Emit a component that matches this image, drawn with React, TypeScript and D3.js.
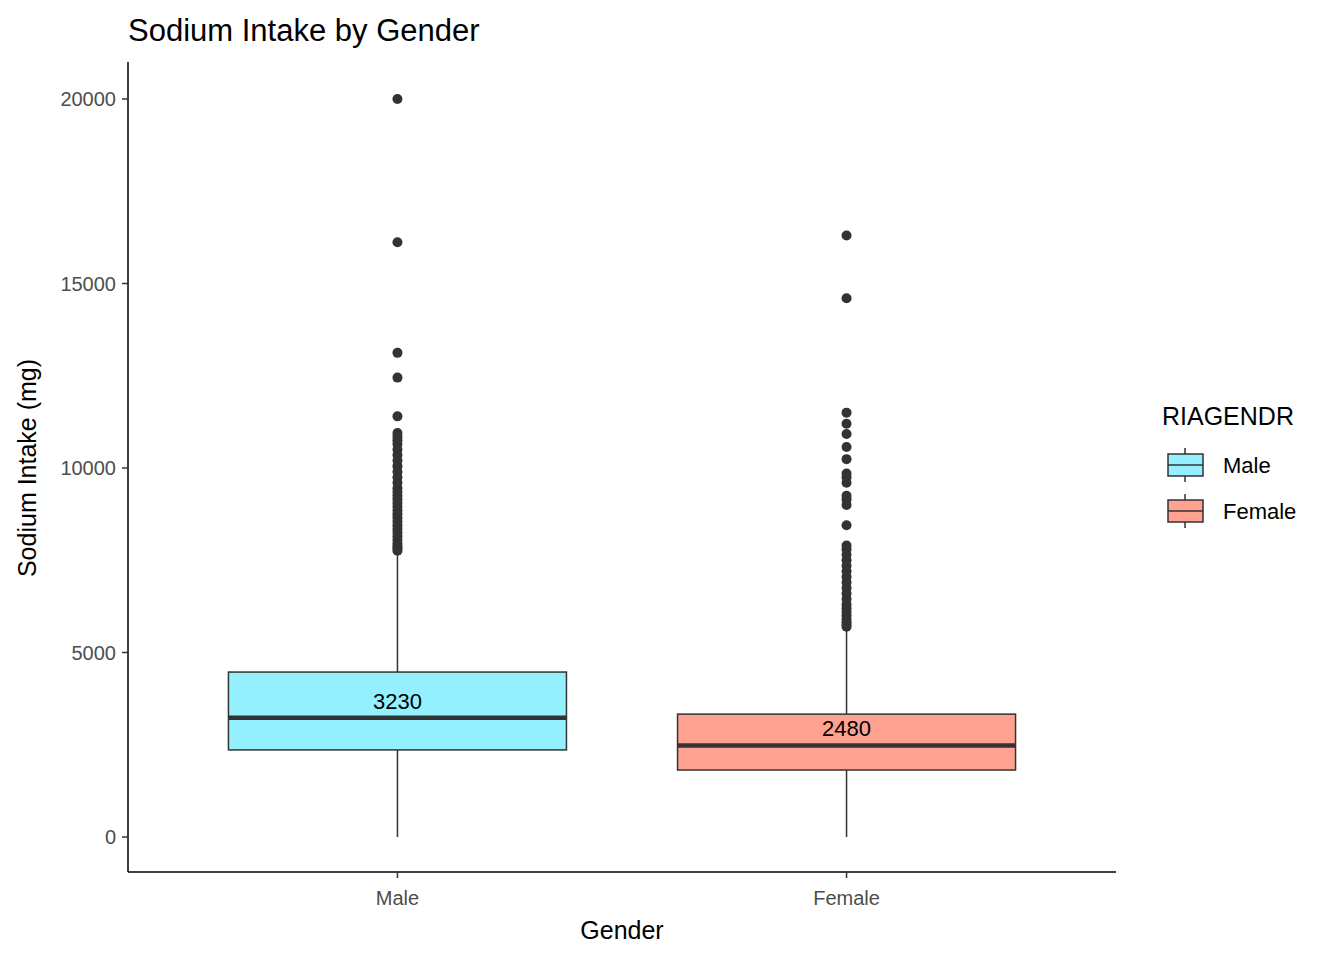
import React from "react";
import * as d3 from "d3";

const categories = ["Male", "Female"];
const fills = ["#94EFFF", "#FFA291"];
const q1 = [2360, 1815];
const median = [3230, 2480];
const q3 = [4470, 3330];
const whiskLo = [0, 0];
const whiskHi = [7700, 5650];
const maleOutliers = [20000, 16120, 13120, 12450, 11400, 10950, 10850, 10750, 10650, 10500, 10350, 10200, 10050, 9900, 9750, 9600, 9450, 9350, 9250, 9150, 9050, 8950, 8850, 8750, 8650, 8550, 8450, 8350, 8250, 8150, 8050, 7950, 7880, 7820, 7760];
const femaleOutliers = [16300, 14600, 11500, 11200, 10920, 10570, 10240, 9850, 9750, 9600, 9250, 9150, 9000, 8450, 7900, 7800, 7650, 7500, 7350, 7200, 7050, 6900, 6750, 6600, 6450, 6300, 6200, 6100, 6000, 5900, 5820, 5750, 5700];
const outliers = [maleOutliers, femaleOutliers];
const yTicks = [0, 5000, 10000, 15000, 20000];

export default function App() {
  const L = 128, R = 1116, T = 62, B = 872;
  const y = d3.scaleLinear().domain([0, 20000]).range([837, 99]);
  const x = d3.scaleBand().domain(categories).range([L, R]).padding(0.2).paddingOuter(0.2);
  const cx = (c: string) => x(c)! + x.bandwidth() / 2;
  const bw = 338;
  const font = "Arial, Liberation Sans, sans-serif";
  return (
    <svg width={1344} height={960} style={{ position: "absolute", left: 0, top: 0 }} fontFamily={font}>
      <rect width={1344} height={960} fill="white" />
      <text x={128} y={41} fontSize={31} fill="#000">Sodium Intake by Gender</text>
      {categories.map((c, i) => {
        const m = cx(c);
        return (
          <g key={c}>
            <line x1={m} x2={m} y1={y(whiskLo[i])} y2={y(q1[i])} stroke="#333" strokeWidth={1.5} />
            <line x1={m} x2={m} y1={y(q3[i])} y2={y(whiskHi[i])} stroke="#333" strokeWidth={1.5} />
            <rect x={m - bw / 2} width={bw} y={y(q3[i])} height={y(q1[i]) - y(q3[i])} fill={fills[i]} stroke="#333" strokeWidth={1.5} />
            <line x1={m - bw / 2} x2={m + bw / 2} y1={y(median[i])} y2={y(median[i])} stroke="#333" strokeWidth={4.5} />
            {outliers[i].map((v, j) => <circle key={j} cx={m} cy={y(v)} r={5} fill="#333" />)}
            <text x={m} y={y(median[i]) - 9} textAnchor="middle" fontSize={22} fill="#000">{median[i]}</text>
          </g>
        );
      })}
      <line x1={L} x2={L} y1={T} y2={B} stroke="#000" strokeWidth={1.5} />
      <line x1={L} x2={R} y1={B} y2={B} stroke="#000" strokeWidth={1.5} />
      {yTicks.map(t => (
        <g key={t}>
          <line x1={L - 6} x2={L} y1={y(t)} y2={y(t)} stroke="#333" strokeWidth={1.5} />
          <text x={L - 12} y={y(t) + 7} textAnchor="end" fontSize={20} fill="#4d4d4d">{t}</text>
        </g>
      ))}
      {categories.map(c => (
        <g key={c}>
          <line x1={cx(c)} x2={cx(c)} y1={B} y2={B + 6} stroke="#333" strokeWidth={1.5} />
          <text x={cx(c)} y={905} textAnchor="middle" fontSize={20} fill="#4d4d4d">{c}</text>
        </g>
      ))}
      <text x={622} y={939} textAnchor="middle" fontSize={25} fill="#000">Gender</text>
      <text transform="translate(36,468) rotate(-90)" textAnchor="middle" fontSize={25} fill="#000">Sodium Intake (mg)</text>
      <text x={1162} y={425} fontSize={25} fill="#000">RIAGENDR</text>
      {categories.map((c, i) => {
        const ty = 448 + i * 46;
        return (
          <g key={c}>
            <line x1={1185} x2={1185} y1={ty} y2={ty + 34} stroke="#333" strokeWidth={1.5} />
            <rect x={1168} y={ty + 6} width={35} height={22} fill={fills[i]} stroke="#333" strokeWidth={1.5} />
            <line x1={1168} x2={1203} y1={ty + 17} y2={ty + 17} stroke="#333" strokeWidth={1.5} />
            <text x={1223} y={ty + 25} fontSize={22} fill="#000">{c}</text>
          </g>
        );
      })}
    </svg>
  );
}
